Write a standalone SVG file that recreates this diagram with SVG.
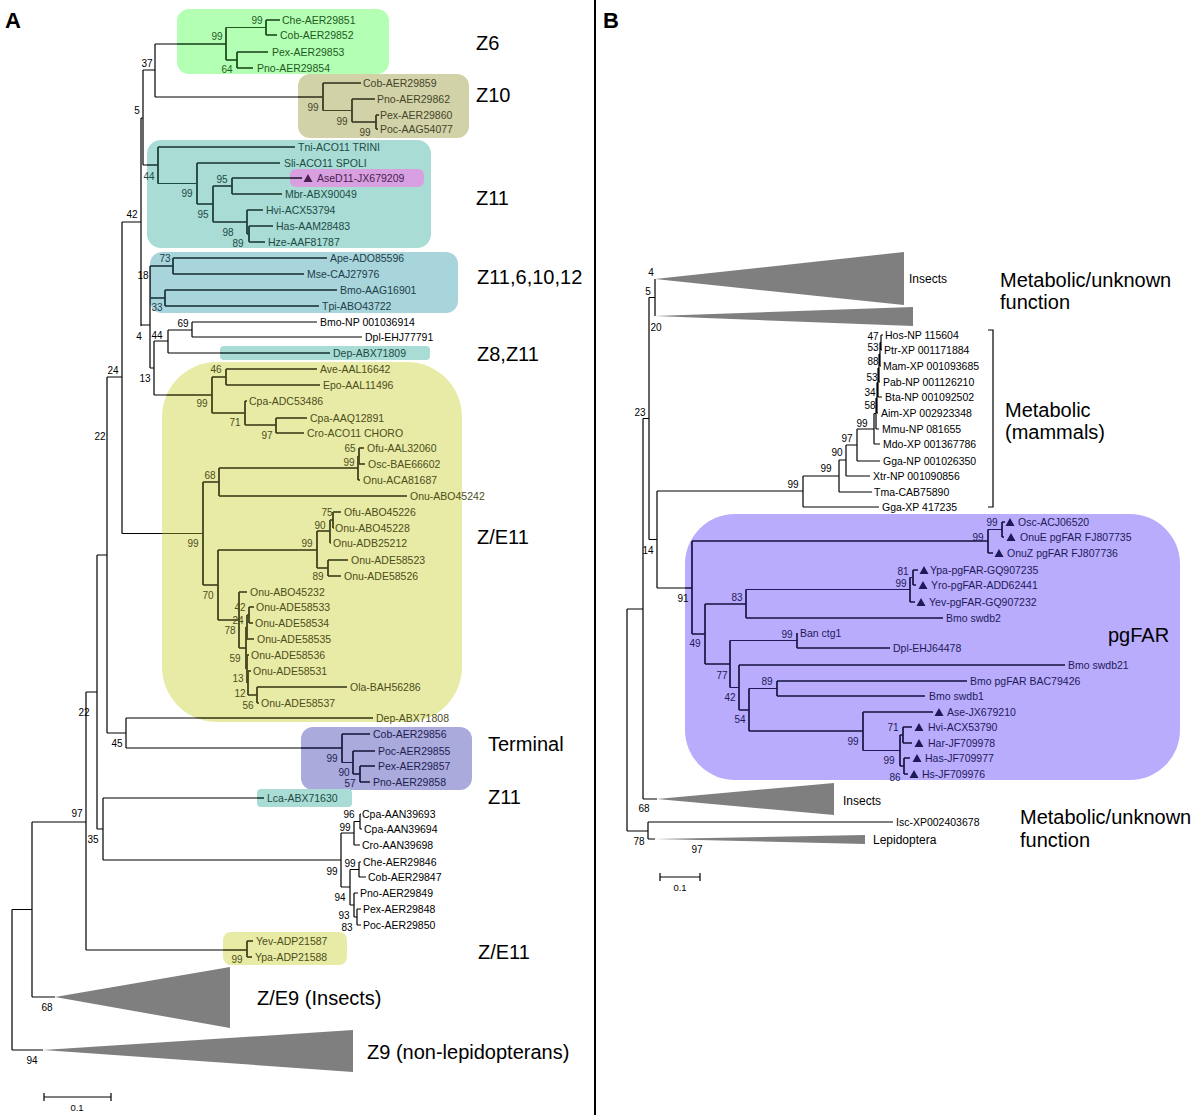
<svg xmlns="http://www.w3.org/2000/svg" xmlns:xlink="http://www.w3.org/1999/xlink" width="1200" height="1115" viewBox="0 0 1200 1115">
<style>
text{font-family:"Liberation Sans",Arial,sans-serif;fill:#000}
.l{font-size:10.5px;dominant-baseline:central}
.b{font-size:10px;text-anchor:middle;dominant-baseline:central}
.g{font-size:20px;dominant-baseline:central}
.s{font-size:12px;dominant-baseline:central}
.k{font-size:9.5px;text-anchor:middle;dominant-baseline:central}
.p{font-size:22px;font-weight:bold}
.c6{fill:#1f5a1f}.c10{fill:#45452a}.c11{fill:#1e4a46}.cp{fill:#4a2050}.c12{fill:#1e4048}.ce{fill:#4d4d1c}.ct{fill:#1e1e52}.cf{fill:#1e1a5a}
.tri{fill:#7f7f7f}
</style>
<defs>
<clipPath id="k6"><rect x="177" y="9" width="212" height="65" rx="12"/></clipPath>
<clipPath id="k10"><rect x="298" y="74" width="171" height="64" rx="12"/></clipPath>
<clipPath id="k11"><rect x="147" y="140" width="284" height="108" rx="14"/><rect x="220" y="346" width="210" height="14" rx="4"/><rect x="257" y="789" width="95" height="18" rx="4"/></clipPath>
<clipPath id="kp"><rect x="290" y="169" width="134" height="18" rx="6"/></clipPath>
<clipPath id="k12"><rect x="150" y="252" width="308" height="61" rx="12"/></clipPath>
<clipPath id="ke"><rect x="162" y="362" width="300" height="360" rx="55"/><rect x="223" y="932" width="124" height="33" rx="8"/></clipPath>
<clipPath id="kt"><rect x="301" y="727" width="171" height="63" rx="12"/></clipPath>
<clipPath id="kf"><rect x="685" y="514" width="495" height="266" rx="50"/></clipPath>
</defs>
<rect width="1200" height="1115" fill="#fff"/>

<g id="boxes">
<rect x="177" y="9" width="212" height="65" rx="12" fill="#b3ffb3"/>
<rect x="298" y="74" width="171" height="64" rx="12" fill="#d2d2a8"/>
<rect x="147" y="140" width="284" height="108" rx="14" fill="#a8dcd4"/>
<rect x="290" y="169" width="134" height="18" rx="6" fill="#d8a0e0"/>
<rect x="150" y="252" width="308" height="61" rx="12" fill="#a8d4dc"/>
<rect x="220" y="346" width="210" height="14" rx="4" fill="#a8dcd4"/>
<rect x="162" y="362" width="300" height="360" rx="55" fill="#e8eba5"/>
<rect x="301" y="727" width="171" height="63" rx="12" fill="#aaaadc"/>
<rect x="257" y="789" width="95" height="18" rx="4" fill="#a8dcd4"/>
<rect x="223" y="932" width="124" height="33" rx="8" fill="#e8eba5"/>
<rect x="685" y="514" width="495" height="266" rx="50" fill="#b9acfc"/>
</g>

<g id="connectors">
<g stroke="#000">
<g id="tA" fill="none" stroke-width="1.2">
<path d="M266 20V35M266 20H280M266 35H277M237 52V68M237 52H268M237 68H253M226 27.5V60M226 27.5H266M226 60H237M155 44V97M155 44H226"/>
<path d="M155 97H323M323 83V110.5M323 83H361M323 110.5H352M352 99V122M352 99H375M352 122H376M376 115V129M376 115H379M376 129H378"/>
<path d="M143 70V165M143 70H155M143 165H158M141 118H143"/>
<path d="M158 147V183.5M158 147H295M158 183.5H197M197 163V204M197 163H280M197 204H213M213 186V222M213 186H232M232 178V194M232 178H302M232 194H282M213 222H247M247 210V234M247 210H263M247 234H249M249 226V242M249 226H273M249 242H265"/>
<path d="M141 118V326M122 222H141"/>
<path d="M173 258V274M173 258H327M173 274H304M165 290V306M165 290H337M165 306H319M150 266V368M150 266H173M150 298H165M141 325H150M150 368H154M154 341V395M154 341H168M168 330V353M168 353H330M168 330H192M192 322V337M192 322H317M192 337H362"/>
<path d="M154 395H212M212 377V413M212 377H226M226 369V385M226 369H317M226 385H320M212 413H245M245 401V425M245 401H247M245 425H276M276 418V433M276 418H307M276 433H304"/>
<path d="M203 482V585M203 482H219M219 468V496M219 468H358M219 496H407M358 456V480M358 456H359M358 480H360M359 448V464M359 448H364M359 464H365"/>
<path d="M203 585H218M218 550V620M218 550H317M317 531V568M317 531H330M330 520V543M330 520H333M330 543H331M333 512V528M333 512H341M333 528H334M317 568H328M328 560V576M328 560H348M328 576H341"/>
<path d="M218 620H239M239 592V648M239 592H247M239 648H246M246 627V669M246 627H247M247 615V639M247 639H254M247 615H249M249 607V623M249 607H254M249 623H253M246 669H247M247 655V683M247 655H249M247 683H248M248 671V695M248 671H251M248 695H257M257 687V703M257 687H347M257 703H259"/>
<path d="M122 533.5H203M122 222V533.5M107 377H122M107 377V733M97 555H107M107 733H126M126 718V748M126 718H373M126 748H342"/>
<path d="M342 734V762.5M342 734H370M342 762.5H353M353 751V774M353 751H375M353 774H360M360 766V782M360 766H375M360 782H370"/>
<path d="M97 555V829M86 692H97M97 829H103M103 798V860M103 798H264M103 860H341M341 833V887M341 833H354M354 821.5V845M354 845H360M354 821.5H360M360 814V829M360 814H361M360 829H362M341 887H350M350 869.5V905M350 869.5H359M359 862V877M359 862H361M359 877H366M350 905H354M354 893V917M354 893H358M354 917H357M357 909V925M357 909H361M357 925H361"/>
<path d="M86 692V950M86 950H247M247 941V957M247 941H253M247 957H252M32 822H86M32 822V997M32 997H55M12 909.5H32M12 909.5V1050M12 1050H43"/>
</g>
<g id="tB" fill="none" stroke-width="1.2">
<path d="M655 279V316M649 297.5H655M649 297.5V539.5M643 418.5H649M643 418.5V799M643 799H657M627 609H643M627 609V831M627 831H648M648 822V839M648 822H893M648 839H655"/>
<path d="M649 539.5H657M657 491V588M657 491H803M803 476V507M803 507H879M803 476H839M839 460V492M839 492H872M839 460H846M846 445V476M846 476H870M846 445H857M857 429V461M857 461H880M857 429H874M874 413.5V444M874 444H880M874 413.5H876M876 398V429M876 429H879M876 398H877M877 382.5V413M877 413H878M877 382.5H878M878 368V397M878 397H882M878 368H879M879 354V382M879 382H880M879 354H880M880 342.5V366M880 366H881M880 342.5H881M881 335V350M881 335H883M881 350H882"/>
<path d="M657 588H692M692 541V634M692 541H988M988 529.5V553M988 553H993M988 529.5H1002M1002 522V537M1002 522H1005M1002 537H1004"/>
<path d="M692 634H705M705 604V664M705 604H746M746 589.5V618M746 618H943M746 589.5H910M910 577.5V602M910 602H915M910 577.5H913M913 570V585M913 570H918M913 585H916"/>
<path d="M705 664H730M730 640.5V687.5M730 640.5H797M797 633V648M797 648H890M730 687.5H739M739 665V710M739 665H1065M739 710H749M749 688.5V731M749 688.5H777M777 681V696M777 681H967M777 696H925M749 731H863M863 712V750.5M863 712H933M863 750.5H900M900 735V766M900 735H903M903 727V743M903 727H912M903 743H912M900 766H904M904 758V774M904 758H910M904 774H908"/>
<path d="M988 330H993V507H988"/>
</g>
<path d="M44 1097H111M44 1093V1101M111 1093V1101M660 877H700M660 873V881M700 873V881" fill="none" stroke-width="1.2"/>
<path d="M595 0V1115" stroke-width="2"/>
</g>
<use href="#tA" stroke="#1f5a1f" clip-path="url(#k6)"/>
<use href="#tA" stroke="#45452a" clip-path="url(#k10)"/>
<use href="#tA" stroke="#1e4a46" clip-path="url(#k11)"/>
<use href="#tA" stroke="#4a2050" clip-path="url(#kp)"/>
<use href="#tA" stroke="#1e4048" clip-path="url(#k12)"/>
<use href="#tA" stroke="#4d4d1c" clip-path="url(#ke)"/>
<use href="#tA" stroke="#1e1e52" clip-path="url(#kt)"/>
<use href="#tB" stroke="#1e1a5a" clip-path="url(#kf)"/>
</g>

<g id="collapsed">
<polygon class="tri" points="55,997 230,967 230,1028"/>
<polygon class="tri" points="43,1050 353,1030 353,1072"/>
<polygon class="tri" points="655,279 904,252 904,305"/>
<polygon class="tri" points="655,316 913,307 913,326"/>
<polygon class="tri" points="657,799 834,783 834,815"/>
<polygon class="tri" points="655,839 865,835 865,844"/>
</g>

<g id="markers">
<polygon fill="#4a2050" points="303.5,182 312.5,182 308,174"/>
<polygon fill="#1e1a5a" points="1005.5,526 1014.5,526 1010,518"/>
<polygon fill="#1e1a5a" points="1006.5,541 1015.5,541 1011,533"/>
<polygon fill="#1e1a5a" points="994.5,557 1003.5,557 999,549"/>
<polygon fill="#1e1a5a" points="919.5,574 928.5,574 924,566"/>
<polygon fill="#1e1a5a" points="918.5,589 927.5,589 923,581"/>
<polygon fill="#1e1a5a" points="916.5,606 925.5,606 921,598"/>
<polygon fill="#1e1a5a" points="934.5,716 943.5,716 939,708"/>
<polygon fill="#1e1a5a" points="914.5,731 923.5,731 919,723"/>
<polygon fill="#1e1a5a" points="914.5,747 923.5,747 919,739"/>
<polygon fill="#1e1a5a" points="912.5,762 921.5,762 917,754"/>
<polygon fill="#1e1a5a" points="909.5,778 918.5,778 914,770"/>
</g>

<g id="panel-labels">
<text class="p" x="5" y="28">A</text>
<text class="p" x="603" y="28">B</text>
</g>

<g id="clade-Z6">
<text class="l c6" x="282" y="20">Che-AER29851</text>
<text class="l c6" x="280" y="35">Cob-AER29852</text>
<text class="l c6" x="272" y="52">Pex-AER29853</text>
<text class="l c6" x="257" y="68">Pno-AER29854</text>
<text class="b c6" x="257" y="20">99</text>
<text class="b c6" x="217" y="36">99</text>
<text class="b c6" x="227" y="69">64</text>
<text class="g" x="476" y="43">Z6</text>
</g>
<g id="clade-Z10">
<text class="l c10" x="363" y="83">Cob-AER29859</text>
<text class="l c10" x="377" y="99">Pno-AER29862</text>
<text class="l c10" x="380" y="115">Pex-AER29860</text>
<text class="l c10" x="380" y="129">Poc-AAG54077</text>
<text class="b c10" x="313" y="107">99</text>
<text class="b c10" x="342" y="121">99</text>
<text class="b c10" x="365" y="132">99</text>
<text class="g" x="476" y="95">Z10</text>
</g>
<g id="clade-Z11">
<text class="l c11" x="298" y="147">Tni-ACO11 TRINI</text>
<text class="l c11" x="284" y="163">Sli-ACO11 SPOLI</text>
<text class="l cp" x="317" y="178">AseD11-JX679209</text>
<text class="l c11" x="285" y="194">Mbr-ABX90049</text>
<text class="l c11" x="266" y="210">Hvi-ACX53794</text>
<text class="l c11" x="276" y="226">Has-AAM28483</text>
<text class="l c11" x="268" y="242">Hze-AAF81787</text>
<text class="b c11" x="149" y="176">44</text>
<text class="b c11" x="187" y="193">99</text>
<text class="b c11" x="222" y="179">95</text>
<text class="b c11" x="203" y="214">95</text>
<text class="b c11" x="228" y="232">98</text>
<text class="b c11" x="238" y="243">89</text>
<text class="g" x="476" y="198">Z11</text>
</g>
<g id="clade-Z11-6-10-12">
<text class="l c12" x="330" y="258">Ape-ADO85596</text>
<text class="l c12" x="307" y="274">Mse-CAJ27976</text>
<text class="l c12" x="340" y="290">Bmo-AAG16901</text>
<text class="l c12" x="322" y="306">Tpi-ABO43722</text>
<text class="b c12" x="165" y="258">73</text>
<text class="b" x="143" y="275">18</text>
<text class="b c12" x="157" y="307">33</text>
<text class="g" x="477" y="277">Z11,6,10,12</text>
</g>
<g id="clade-Z8-Z11">
<text class="l" x="320" y="322">Bmo-NP 001036914</text>
<text class="l" x="365" y="337">Dpl-EHJ77791</text>
<text class="l c11" x="333" y="353">Dep-ABX71809</text>
<text class="b" x="183" y="323">69</text>
<text class="b" x="157" y="335">44</text>
<text class="b" x="139" y="336">4</text>
<text class="b" x="145" y="378">13</text>
<text class="g" x="477" y="354">Z8,Z11</text>
</g>
<g id="clade-ZE11">
<text class="l ce" x="320" y="369">Ave-AAL16642</text>
<text class="l ce" x="323" y="385">Epo-AAL11496</text>
<text class="l ce" x="249" y="401">Cpa-ADC53486</text>
<text class="l ce" x="310" y="418">Cpa-AAQ12891</text>
<text class="l ce" x="307" y="433">Cro-ACO11 CHORO</text>
<text class="l ce" x="367" y="448">Ofu-AAL32060</text>
<text class="l ce" x="368" y="464">Osc-BAE66602</text>
<text class="l ce" x="363" y="480">Onu-ACA81687</text>
<text class="l ce" x="410" y="496">Onu-ABO45242</text>
<text class="l ce" x="344" y="512">Ofu-ABO45226</text>
<text class="l ce" x="335" y="528">Onu-ABO45228</text>
<text class="l ce" x="333" y="543">Onu-ADB25212</text>
<text class="l ce" x="351" y="560">Onu-ADE58523</text>
<text class="l ce" x="344" y="576">Onu-ADE58526</text>
<text class="l ce" x="250" y="592">Onu-ABO45232</text>
<text class="l ce" x="256" y="607">Onu-ADE58533</text>
<text class="l ce" x="255" y="623">Onu-ADE58534</text>
<text class="l ce" x="257" y="639">Onu-ADE58535</text>
<text class="l ce" x="251" y="655">Onu-ADE58536</text>
<text class="l ce" x="253" y="671">Onu-ADE58531</text>
<text class="l ce" x="350" y="687">Ola-BAH56286</text>
<text class="l ce" x="261" y="703">Onu-ADE58537</text>
<text class="b ce" x="216" y="369">46</text>
<text class="b ce" x="202" y="403">99</text>
<text class="b ce" x="235" y="422">71</text>
<text class="b ce" x="267" y="435">97</text>
<text class="b ce" x="350" y="448">65</text>
<text class="b ce" x="349" y="462">99</text>
<text class="b ce" x="210" y="475">68</text>
<text class="b ce" x="327" y="512">75</text>
<text class="b ce" x="320" y="525">90</text>
<text class="b ce" x="307" y="543">99</text>
<text class="b ce" x="193" y="543">99</text>
<text class="b ce" x="318" y="576">89</text>
<text class="b ce" x="208" y="595">70</text>
<text class="b ce" x="240" y="607">42</text>
<text class="b ce" x="238" y="620">24</text>
<text class="b ce" x="230" y="630">78</text>
<text class="b ce" x="235" y="658">59</text>
<text class="b ce" x="238" y="678">13</text>
<text class="b ce" x="240" y="693">12</text>
<text class="b ce" x="248" y="705">56</text>
<text class="g" x="477" y="537">Z/E11</text>
</g>
<g id="spine-labels">
<text class="b" x="147" y="63">37</text>
<text class="b" x="137" y="110">5</text>
<text class="b" x="132" y="214">42</text>
<text class="b" x="113" y="370">24</text>
<text class="b" x="100" y="436">22</text>
<text class="b" x="84" y="712">22</text>
<text class="b" x="117" y="743">45</text>
<text class="b" x="77" y="813">97</text>
<text class="b" x="93" y="839">35</text>
<text class="b" x="47" y="1007">68</text>
<text class="b" x="32" y="1060">94</text>
</g>
<g id="clade-Terminal">
<text class="l ce" x="376" y="718">Dep-ABX71808</text>
<text class="l ct" x="373" y="734">Cob-AER29856</text>
<text class="l ct" x="378" y="751">Poc-AER29855</text>
<text class="l ct" x="378" y="766">Pex-AER29857</text>
<text class="l ct" x="373" y="782">Pno-AER29858</text>
<text class="b ct" x="332" y="758">99</text>
<text class="b ct" x="344" y="772">90</text>
<text class="b ct" x="350" y="783">57</text>
<text class="g" x="488" y="744">Terminal</text>
</g>
<g id="clade-lower">
<text class="l c11" x="267" y="798">Lca-ABX71630</text>
<text class="g" x="488" y="797">Z11</text>
<text class="l" x="362" y="814">Cpa-AAN39693</text>
<text class="l" x="364" y="829">Cpa-AAN39694</text>
<text class="l" x="362" y="845">Cro-AAN39698</text>
<text class="l" x="363" y="862">Che-AER29846</text>
<text class="l" x="368" y="877">Cob-AER29847</text>
<text class="l" x="360" y="893">Pno-AER29849</text>
<text class="l" x="363" y="909">Pex-AER29848</text>
<text class="l" x="363" y="925">Poc-AER29850</text>
<text class="b" x="349" y="814">96</text>
<text class="b" x="345" y="827">99</text>
<text class="b" x="350" y="863">99</text>
<text class="b" x="332" y="871">99</text>
<text class="b" x="340" y="897">94</text>
<text class="b" x="344" y="915">93</text>
<text class="b" x="347" y="927">83</text>
<text class="l ce" x="256" y="941">Yev-ADP21587</text>
<text class="l ce" x="255" y="957">Ypa-ADP21588</text>
<text class="b ce" x="237" y="959">99</text>
<text class="g" x="478" y="952">Z/E11</text>
<text class="g" x="257" y="998">Z/E9 (Insects)</text>
<text class="g" x="367" y="1052">Z9 (non-lepidopterans)</text>
<text class="k" x="77" y="1107">0.1</text>
</g>

<g id="B-outgroups">
<text class="s" x="909" y="279">Insects</text>
<text class="g" x="1000" y="280">Metabolic/unknown</text>
<text class="g" x="1000" y="302">function</text>
<text class="b" x="651" y="272">4</text>
<text class="b" x="648" y="291">5</text>
<text class="b" x="656" y="327">20</text>
<text class="b" x="640" y="412">23</text>
<text class="b" x="648" y="550">14</text>
<text class="s" x="843" y="801">Insects</text>
<text class="s" x="873" y="840">Lepidoptera</text>
<text class="l" x="896" y="822">Isc-XP002403678</text>
<text class="b" x="644" y="808">68</text>
<text class="b" x="639" y="841">78</text>
<text class="b" x="697" y="849">97</text>
<text class="g" x="1020" y="817">Metabolic/unknown</text>
<text class="g" x="1020" y="840">function</text>
<text class="k" x="680" y="887">0.1</text>
</g>
<g id="B-mammals">
<text class="l" x="885" y="335">Hos-NP 115604</text>
<text class="l" x="884" y="350">Ptr-XP 001171884</text>
<text class="l" x="883" y="366">Mam-XP 001093685</text>
<text class="l" x="883" y="382">Pab-NP 001126210</text>
<text class="l" x="885" y="397">Bta-NP 001092502</text>
<text class="l" x="881" y="413">Aim-XP 002923348</text>
<text class="l" x="882" y="429">Mmu-NP 081655</text>
<text class="l" x="883" y="444">Mdo-XP 001367786</text>
<text class="l" x="883" y="461">Gga-NP 001026350</text>
<text class="l" x="873" y="476">Xtr-NP 001090856</text>
<text class="l" x="874" y="492">Tma-CAB75890</text>
<text class="l" x="882" y="507">Gga-XP 417235</text>
<text class="b" x="873" y="336">47</text>
<text class="b" x="873" y="347">53</text>
<text class="b" x="873" y="361">88</text>
<text class="b" x="872" y="377">53</text>
<text class="b" x="870" y="392">34</text>
<text class="b" x="870" y="405">58</text>
<text class="b" x="862" y="423">99</text>
<text class="b" x="847" y="438">97</text>
<text class="b" x="837" y="452">90</text>
<text class="b" x="826" y="468">99</text>
<text class="b" x="793" y="484">99</text>
<text class="g" x="1005" y="410">Metabolic</text>
<text class="g" x="1005" y="432">(mammals)</text>
</g>
<g id="B-pgFAR">
<text class="l cf" x="1018" y="522">Osc-ACJ06520</text>
<text class="l cf" x="1020" y="537">OnuE pgFAR FJ807735</text>
<text class="l cf" x="1007" y="553">OnuZ pgFAR FJ807736</text>
<text class="l cf" x="930" y="570">Ypa-pgFAR-GQ907235</text>
<text class="l cf" x="931" y="585">Yro-pgFAR-ADD62441</text>
<text class="l cf" x="929" y="602">Yev-pgFAR-GQ907232</text>
<text class="l cf" x="946" y="618">Bmo swdb2</text>
<text class="l cf" x="800" y="633">Ban ctg1</text>
<text class="l cf" x="893" y="648">Dpl-EHJ64478</text>
<text class="l cf" x="1068" y="665">Bmo swdb21</text>
<text class="l cf" x="970" y="681">Bmo pgFAR BAC79426</text>
<text class="l cf" x="929" y="696">Bmo swdb1</text>
<text class="l cf" x="947" y="712">Ase-JX679210</text>
<text class="l cf" x="928" y="727">Hvi-ACX53790</text>
<text class="l cf" x="928" y="743">Har-JF709978</text>
<text class="l cf" x="925" y="758">Has-JF709977</text>
<text class="l cf" x="922" y="774">Hs-JF709976</text>
<text class="b cf" x="992" y="522">99</text>
<text class="b cf" x="978" y="537">99</text>
<text class="b" x="683" y="598">91</text>
<text class="b cf" x="695" y="643">49</text>
<text class="b cf" x="737" y="597">83</text>
<text class="b cf" x="903" y="571">81</text>
<text class="b cf" x="901" y="583">99</text>
<text class="b cf" x="787" y="634">99</text>
<text class="b cf" x="722" y="675">77</text>
<text class="b cf" x="730" y="697">42</text>
<text class="b cf" x="740" y="719">54</text>
<text class="b cf" x="767" y="681">89</text>
<text class="b cf" x="853" y="741">99</text>
<text class="b cf" x="893" y="727">71</text>
<text class="b cf" x="889" y="760">99</text>
<text class="b cf" x="895" y="777">86</text>
<text class="g" x="1108" y="635">pgFAR</text>
</g>
</svg>
